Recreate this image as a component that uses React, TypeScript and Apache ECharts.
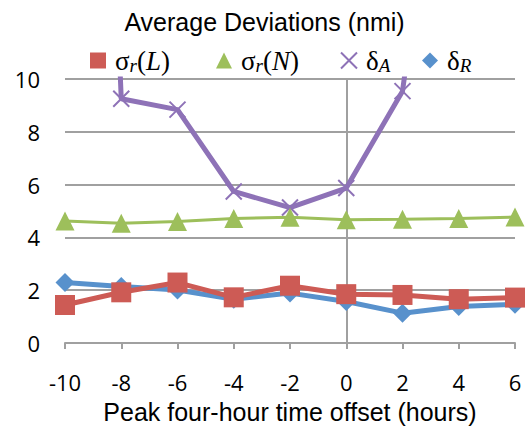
import React, { useEffect, useRef } from "react";
import * as echarts from "echarts";

const xValues = [-10, -8, -6, -4, -2, 0, 2, 4, 6];
const sigmaL = [1.44, 1.92, 2.29, 1.73, 2.17, 1.85, 1.82, 1.66, 1.72];
const sigmaN = [4.62, 4.54, 4.6, 4.72, 4.76, 4.67, 4.69, 4.72, 4.77];
const deltaA = [60, 9.25, 8.84, 5.74, 5.13, 5.87, 9.54, 25, 30];
const deltaR = [2.29, 2.14, 2.01, 1.66, 1.89, 1.57, 1.13, 1.38, 1.47];

const RED = "#CD5B55";
const GREEN = "#9DBF5B";
const PURPLE = "#8E72B7";
const BLUE = "#5891CC";
const XSYM = "path://M0,0L10,10M10,0L0,10";

const names = { sL: "sL", sN: "sN", dA: "dA", dR: "dR" };
const labels: Record<string, string> = {
  sL: "{s|σ}{sub|r}{p|(}{i|L}{p|)}",
  sN: "{s|σ}{sub|r}{p|(}{i|N}{p|)}",
  dA: "{s|δ}{isub|A}",
  dR: "{s|δ}{isub|R}",
};

const pairs = (ys: number[]) => xValues.map((x, i) => [x, ys[i]]);

export default function App() {
  const ref = useRef<HTMLDivElement>(null);
  useEffect(() => {
    if (!ref.current) return;
    const chart = echarts.init(ref.current, undefined, { renderer: "svg" });
    const rich = {
      s: { fontFamily: "Liberation Serif", fontSize: 27, color: "#000" },
      p: { fontFamily: "Liberation Serif", fontSize: 27, color: "#000" },
      i: { fontFamily: "Liberation Serif", fontStyle: "italic", fontSize: 27, color: "#000" },
      sub: { fontFamily: "Liberation Serif", fontStyle: "italic", fontSize: 19, color: "#000", padding: [10, 0, 0, 0] },
      isub: { fontFamily: "Liberation Serif", fontStyle: "italic", fontSize: 19, color: "#000", padding: [10, 0, 0, 0] },
    };
    const mkLegend = (name: string, left: number, icon: string, itemStyle: any) => ({
      data: [name],
      left,
      top: 42,
      icon,
      itemWidth: 16,
      itemHeight: 16,
      itemStyle,
      formatter: (n: string) => labels[n],
      textStyle: { rich, padding: [0, 0, 0, 4] },
    });
    chart.setOption({
      animation: false,
      title: {
        text: "Average Deviations (nmi)",
        left: "center",
        top: 4,
        textStyle: { fontFamily: "Liberation Sans", fontSize: 25, fontWeight: "normal", color: "#000" },
      },
      legend: [
        mkLegend(names.sL, 85, "rect", { color: RED, borderWidth: 0 }),
        mkLegend(names.sN, 211, "triangle", { color: GREEN, borderWidth: 0 }),
        mkLegend(names.dA, 335, XSYM, { color: PURPLE, borderColor: PURPLE, borderWidth: 2 }),
        mkLegend(names.dR, 417, "diamond", { color: BLUE, borderWidth: 0 }),
      ],
      grid: { left: 65, right: 14, top: 79, bottom: 86 },
      xAxis: {
        type: "value",
        min: -10,
        max: 6,
        interval: 2,
        name: "Peak four-hour time offset (hours)",
        nameLocation: "middle",
        nameGap: 56,
        nameTextStyle: { fontFamily: "Liberation Sans", fontSize: 25, color: "#000" },
        axisLine: { onZero: false, lineStyle: { color: "#A0A0A0", width: 2 } },
        axisTick: { show: true, length: 6, lineStyle: { color: "#A0A0A0", width: 2 } },
        axisLabel: { fontFamily: "Open Sans", fontSize: 22, color: "#000", margin: 28 },
        splitLine: { show: false },
      },
      yAxis: {
        type: "value",
        min: 0,
        max: 10,
        interval: 2,
        axisLine: { show: false },
        axisTick: { show: false },
        axisLabel: { fontFamily: "Open Sans", fontSize: 22, color: "#000", margin: 25 },
        splitLine: { lineStyle: { color: "#A0A0A0", width: 2 } },
      },
      series: [
        {
          name: names.dR,
          type: "line",
          data: pairs(deltaR),
          symbol: "diamond",
          symbolSize: 19,
          color: BLUE,
          lineStyle: { width: 5, color: BLUE },
          itemStyle: { color: BLUE },
          clip: true,
          z: 2,
        },
        {
          name: names.dA,
          type: "line",
          data: pairs(deltaA),
          symbol: XSYM,
          symbolSize: 16,
          color: PURPLE,
          lineStyle: { width: 5, color: PURPLE },
          itemStyle: { color: PURPLE, borderColor: PURPLE, borderWidth: 2 },
          clip: true,
          z: 3,
          markLine: {
            silent: true,
            symbol: "none",
            label: { show: false },
            lineStyle: { color: "#A0A0A0", width: 2, type: "solid" },
            data: [{ xAxis: 0 }],
            z: 1,
          },
        },
        {
          name: names.sN,
          type: "line",
          data: pairs(sigmaN),
          symbol: "triangle",
          symbolSize: 19,
          color: GREEN,
          lineStyle: { width: 3, color: GREEN },
          itemStyle: { color: GREEN },
          clip: true,
          z: 4,
        },
        {
          name: names.sL,
          type: "line",
          data: pairs(sigmaL),
          symbol: "rect",
          symbolSize: 20,
          color: RED,
          lineStyle: { width: 5, color: RED },
          itemStyle: { color: RED },
          clip: true,
          z: 5,
        },
      ],
    });
    return () => chart.dispose();
  }, []);
  return <div ref={ref} style={{ width: 529, height: 429, position: "absolute", left: 0, top: 0 }} />;
}
